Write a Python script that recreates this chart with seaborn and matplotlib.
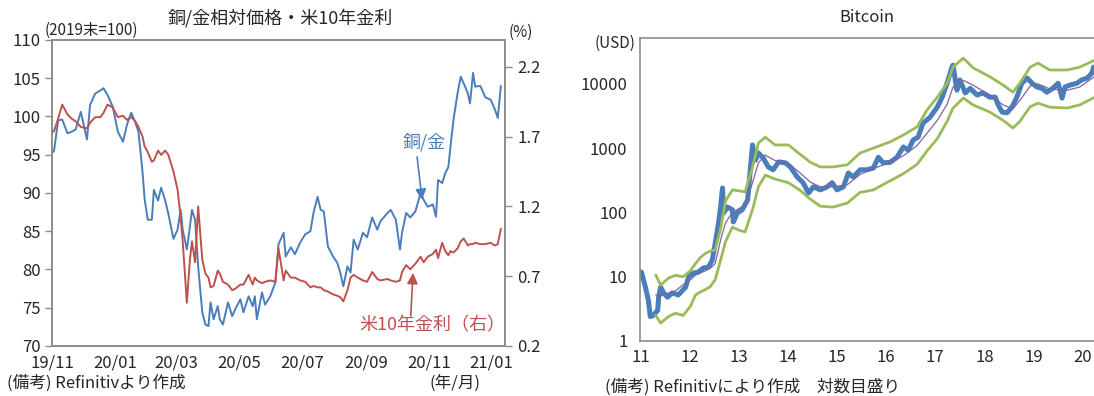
import pandas as pd
import matplotlib.pyplot as plt
import seaborn as sns

# 左パネル: 銅/金相対価格 (2019末=100) と 米10年金利 (%)
dates = [
    "2019-11-01", "2019-11-03", "2019-11-07", "2019-11-11", "2019-11-16", "2019-11-20", "2019-11-24", "2019-11-29",
    "2019-12-05", "2019-12-08", "2019-12-13", "2019-12-18", "2019-12-21", "2019-12-25", "2019-12-30",
    "2020-01-04", "2020-01-09", "2020-01-13", "2020-01-17", "2020-01-21", "2020-01-24", "2020-01-28", "2020-01-30",
    "2020-02-02", "2020-02-06", "2020-02-08", "2020-02-12", "2020-02-15", "2020-02-19", "2020-02-22", "2020-02-27",
    "2020-03-02", "2020-03-05", "2020-03-07", "2020-03-11", "2020-03-14", "2020-03-16", "2020-03-19", "2020-03-22",
    "2020-03-26", "2020-03-29",
    "2020-04-01", "2020-04-03", "2020-04-06", "2020-04-10", "2020-04-12", "2020-04-15", "2020-04-20", "2020-04-24",
    "2020-04-27",
    "2020-05-02", "2020-05-05", "2020-05-10", "2020-05-14", "2020-05-16", "2020-05-18", "2020-05-23", "2020-05-26",
    "2020-05-31",
    "2020-06-05", "2020-06-08", "2020-06-13", "2020-06-15", "2020-06-20", "2020-06-24", "2020-06-29",
    "2020-07-04", "2020-07-09", "2020-07-12", "2020-07-16", "2020-07-19", "2020-07-22", "2020-07-26", "2020-07-31",
    "2020-08-04", "2020-08-07", "2020-08-10", "2020-08-14", "2020-08-17", "2020-08-20", "2020-08-24", "2020-08-29",
    "2020-09-02", "2020-09-07", "2020-09-12", "2020-09-15", "2020-09-22", "2020-09-25", "2020-09-30",
    "2020-10-04", "2020-10-06", "2020-10-10", "2020-10-14", "2020-10-19", "2020-10-24", "2020-10-27", "2020-10-31",
    "2020-11-05", "2020-11-08", "2020-11-10", "2020-11-14", "2020-11-17", "2020-11-20", "2020-11-22", "2020-11-25",
    "2020-11-29",
    "2020-12-02", "2020-12-05", "2020-12-09", "2020-12-11", "2020-12-14", "2020-12-16", "2020-12-21", "2020-12-26",
    "2020-12-31",
    "2021-01-04", "2021-01-07", "2021-01-10",
]
copper_gold = [
    95.2, 95.5, 99.5, 99.6, 97.8, 98.0, 98.3, 100.6, 97.0, 101.5,
    103.0, 103.4, 103.7, 102.8, 101.3, 98.0, 96.7, 99.0, 100.5, 99.2,
    98.0, 92.7, 89.2, 86.5, 86.5, 90.4, 89.0, 90.7, 89.0, 87.3,
    84.0, 85.2, 87.8, 85.2, 82.6, 85.6, 87.8, 86.5, 80.4, 74.4,
    72.8, 72.6, 75.7, 73.5, 75.2, 73.5, 72.8, 75.7, 73.9, 74.8,
    76.1, 74.4, 76.5, 75.2, 76.5, 73.5, 77.0, 75.4, 76.5, 78.3,
    83.3, 84.8, 81.7, 82.9, 82.0, 83.5, 84.6, 85.0, 87.4, 89.5,
    87.8, 87.6, 83.0, 81.7, 80.9, 79.6, 77.8, 80.4, 79.6, 83.9,
    82.6, 84.8, 84.2, 86.8, 85.2, 86.3, 87.4, 87.8, 86.5, 82.6,
    84.8, 87.4, 86.8, 87.6, 90.0, 89.1, 88.2, 88.5, 86.9, 91.7,
    91.3, 92.6, 93.4, 96.0, 99.6, 103.1, 105.2, 104.3, 103.0, 101.7,
    105.7, 103.9, 104.0, 102.5, 102.2, 101.0, 99.8, 104.0,
]
us10y = [
    1.73, 1.74, 1.83, 1.93, 1.86, 1.83, 1.81, 1.77, 1.76, 1.80,
    1.84, 1.84, 1.87, 1.93, 1.91, 1.84, 1.85, 1.82, 1.84, 1.81,
    1.77, 1.70, 1.63, 1.59, 1.52, 1.53, 1.60, 1.57, 1.60, 1.57,
    1.45, 1.32, 1.12, 0.95, 0.51, 0.82, 0.95, 0.80, 1.20, 0.82,
    0.72, 0.69, 0.62, 0.63, 0.74, 0.72, 0.66, 0.64, 0.60, 0.61,
    0.64, 0.64, 0.71, 0.64, 0.69, 0.67, 0.65, 0.66, 0.67, 0.66,
    0.90, 0.67, 0.74, 0.69, 0.69, 0.67, 0.66, 0.62, 0.63, 0.62,
    0.62, 0.60, 0.59, 0.57, 0.56, 0.55, 0.52, 0.60, 0.69, 0.71,
    0.69, 0.67, 0.66, 0.73, 0.68, 0.67, 0.68, 0.67, 0.66, 0.67,
    0.73, 0.78, 0.75, 0.79, 0.84, 0.80, 0.84, 0.86, 0.89, 0.83,
    0.94, 0.88, 0.85, 0.88, 0.87, 0.90, 0.95, 0.97, 0.92, 0.93,
    0.93, 0.94, 0.93, 0.93, 0.94, 0.92, 0.93, 1.04,
]
month_ticks = ["2019-11-01", "2020-01-01", "2020-03-01", "2020-05-01",
               "2020-07-01", "2020-09-01", "2020-11-01", "2021-01-01"]
month_labels = ["19/11", "20/01", "20/03", "20/05", "20/07", "20/09", "20/11", "21/01"]

# 右パネル: Bitcoin (USD, 対数目盛り)
btc_year = [
    2011.63, 2011.71, 2011.77, 2011.81, 2011.87, 2011.96, 2011.98, 2012.02, 2012.08, 2012.16,
    2012.26, 2012.38, 2012.53, 2012.59, 2012.69, 2012.79, 2012.89, 2012.99, 2013.07, 2013.13,
    2013.20, 2013.24, 2013.28, 2013.30, 2013.38, 2013.48, 2013.50, 2013.58, 2013.68, 2013.79,
    2013.85, 2013.89, 2013.95, 2014.01, 2014.11, 2014.21, 2014.31, 2014.42, 2014.56, 2014.66,
    2014.80, 2014.92, 2015.03, 2015.13, 2015.27, 2015.41, 2015.51, 2015.61, 2015.74, 2015.84,
    2015.94, 2016.08, 2016.22, 2016.35, 2016.45, 2016.55, 2016.69, 2016.83, 2016.96, 2017.06,
    2017.16, 2017.26, 2017.36, 2017.50, 2017.65, 2017.75, 2017.85, 2017.95, 2017.97, 2018.05,
    2018.11, 2018.22, 2018.32, 2018.46, 2018.58, 2018.72, 2018.83, 2018.89, 2018.97, 2019.07,
    2019.17, 2019.27, 2019.37, 2019.48, 2019.58, 2019.68, 2019.78, 2019.88, 2020.00, 2020.11,
    2020.19, 2020.25, 2020.35, 2020.49, 2020.59, 2020.70, 2020.80, 2020.83,
]
btc_price = [
    11.8, 6.9, 4.3, 2.4, 2.5, 3.0, 4.8, 6.9, 5.6, 4.8,
    5.6, 5.2, 6.9, 10, 11.4, 11.8, 13.7, 14, 18, 33,
    69, 121, 240, 98, 121, 110, 71, 98, 110, 155,
    510, 1120, 650, 840, 700, 510, 460, 610, 590, 510,
    355, 290, 200, 250, 224, 250, 290, 224, 250, 410,
    355, 460, 460, 490, 720, 590, 600, 720, 1040, 930,
    1340, 1480, 2450, 3000, 4340, 6200, 10200, 18200, 19500, 7950,
    11500, 7200, 8500, 6700, 7200, 6200, 6200, 4700, 3630, 3550,
    4340, 6200, 10200, 12300, 10200, 8900, 8500, 7400, 8500, 10200,
    6000, 8900, 9550, 10200, 11500, 12300, 14700, 18200,
]
band_year = [
    2011.92, 2012.02, 2012.18, 2012.32, 2012.48, 2012.63, 2012.73, 2012.83, 2012.93, 2013.03,
    2013.13, 2013.24, 2013.34, 2013.48, 2013.64, 2013.74, 2013.89, 2014.01, 2014.15, 2014.35,
    2014.62, 2014.86, 2015.07, 2015.27, 2015.53, 2015.82, 2016.08, 2016.35, 2016.69, 2016.96,
    2017.24, 2017.44, 2017.65, 2017.85, 2017.97, 2018.18, 2018.38, 2018.72, 2018.99, 2019.19,
    2019.33, 2019.54, 2019.70, 2019.94, 2020.29, 2020.55, 2020.84,
]
band_upper = [
    10.6, 7.4, 9.5, 10.5, 10.0, 12.5, 16, 20, 23, 25,
    26, 55, 150, 224, 215, 209, 510, 1200, 1480, 1120,
    1120, 800, 600, 510, 510, 550, 840, 1000, 1250, 1600,
    2140, 3900, 6200, 10200, 18200, 25100, 17700, 12900, 9550, 7400,
    10200, 18200, 21000, 16400, 16400, 18200, 23000,
]
band_mid = [
    5.2, 5.0, 5.6, 6.0, 7.5, 9.0, 10.6, 11.5, 12.3, 13.5,
    16, 37, 69, 100, 118, 121, 290, 590, 780, 640,
    580, 410, 295, 250, 250, 270, 390, 480, 600, 760,
    1100, 1700, 2700, 4800, 8900, 11300, 9500, 6700, 4700, 4100,
    5500, 9200, 10000, 8300, 7950, 8900, 12800,
]
band_lower = [
    2.5, 1.9, 2.4, 2.7, 2.5, 3.5, 5.2, 5.8, 6.3, 7.0,
    9, 18, 35, 59, 52, 50, 110, 250, 380, 330,
    290, 220, 160, 125, 121, 140, 205, 224, 310, 400,
    560, 900, 1400, 2600, 4200, 6000, 4700, 3630, 2700, 2050,
    2600, 4400, 5000, 4340, 4200, 4700, 6100,
]
year_labels = ["11", "12", "13", "14", "15", "16", "17", "18", "19", "20"]

BLUE = "#4a7ebb"
RED = "#c0504d"
GREEN = "#9bbb59"
PURPLE = "#8064a2"
GRAY = "#8c8c8c"

sns.set_style("white")
plt.rcParams["font.family"] = ["Noto Sans CJK JP", "DejaVu Sans"]

left_df = pd.DataFrame({"date": pd.to_datetime(dates), "copper_gold": copper_gold, "us10y": us10y})
btc_df = pd.DataFrame({"year": btc_year, "price": btc_price})
band_df = pd.DataFrame({"year": band_year, "upper": band_upper, "mid": band_mid, "lower": band_lower})

fig = plt.figure(figsize=(10.94, 3.96), dpi=100)

# ---- 左 ----
ax = fig.add_axes([0.0475, 0.1263, 0.4141, 0.7727])
sns.lineplot(data=left_df, x="date", y="copper_gold", ax=ax, color=BLUE, linewidth=1.4)
ax2 = ax.twinx()
sns.lineplot(data=left_df, x="date", y="us10y", ax=ax2, color=RED, linewidth=1.4)

ax.set_xlim(pd.Timestamp("2019-11-01"), pd.Timestamp("2021-01-14"))
ax.set_ylim(70, 110)
ax2.set_ylim(0.2, 2.393)
ax.set_yticks(range(70, 111, 5))
ax2.set_yticks([0.2, 0.7, 1.2, 1.7, 2.2])
ax2.set_yticklabels(["0.2", "0.7", "1.2", "1.7", "2.2"])
ax.set_xticks(pd.to_datetime(month_ticks))
ax.set_xticklabels(month_labels)
for a in (ax, ax2):
    a.set_xlabel("")
    a.set_ylabel("")
    for s in a.spines.values():
        s.set_color(GRAY)
        s.set_linewidth(1.2)
ax.tick_params(axis="x", length=0, pad=6, labelsize=12)
ax.tick_params(axis="y", length=5, width=1, color=GRAY, direction="out", labelsize=12, pad=3)
ax2.tick_params(axis="y", length=5, width=1, color=GRAY, direction="out", labelsize=12, pad=4)

ax.annotate("", xy=(0.817, 0.477), xytext=(0.806, 0.618), xycoords="axes fraction",
            arrowprops=dict(arrowstyle="-|>", color=BLUE, lw=1.2, mutation_scale=16, shrinkA=0, shrinkB=0))
ax.text(0.821, 0.667, "銅/金", transform=ax.transAxes, color=BLUE, fontsize=13, ha="center", va="center")
ax.annotate("", xy=(0.797, 0.239), xytext=(0.792, 0.098), xycoords="axes fraction",
            arrowprops=dict(arrowstyle="-|>", color=RED, lw=1.2, mutation_scale=16, shrinkA=0, shrinkB=0))
ax.text(0.839, 0.069, "米10年金利（右）", transform=ax.transAxes, color=RED, fontsize=13, ha="center", va="center")

fig.text(0.256, 0.955, "銅/金相対価格・米10年金利", fontsize=13, ha="center", va="center")
fig.text(0.041, 0.924, "(2019末=100)", fontsize=11, ha="left", va="center")
fig.text(0.465, 0.919, "(%)", fontsize=11, ha="left", va="center")
fig.text(0.006, 0.033, "(備考) Refinitivより作成", fontsize=12, ha="left", va="center")
fig.text(0.393, 0.033, "(年/月)", fontsize=12, ha="left", va="center")

# ---- 右 ----
bx = fig.add_axes([0.585, 0.1389, 0.415, 0.765])
bx.set_yscale("log")
sns.lineplot(data=btc_df, x="year", y="price", ax=bx, color=BLUE, linewidth=3.6)
sns.lineplot(data=band_df, x="year", y="upper", ax=bx, color=GREEN, linewidth=2.0)
sns.lineplot(data=band_df, x="year", y="lower", ax=bx, color=GREEN, linewidth=2.0)
sns.lineplot(data=band_df, x="year", y="mid", ax=bx, color=PURPLE, linewidth=0.9)

bx.set_xlim(2011.60, 2020.84)
bx.set_ylim(1, 51500)
bx.set_yticks([1, 10, 100, 1000, 10000])
bx.set_yticklabels(["1", "10", "100", "1000", "10000"])
bx.minorticks_off()
bx.set_xticks([2011.61 + i for i in range(len(year_labels))])
bx.set_xticklabels(year_labels)
bx.set_xlabel("")
bx.set_ylabel("")
for s in bx.spines.values():
    s.set_color(GRAY)
    s.set_linewidth(1.2)
bx.spines["right"].set_visible(False)
bx.tick_params(axis="x", length=0, pad=6, labelsize=12)
bx.tick_params(axis="y", length=5, width=1, color=GRAY, direction="out", labelsize=12, pad=4)

fig.text(0.792, 0.957, "Bitcoin", fontsize=12, ha="center", va="center")
fig.text(0.581, 0.891, "(USD)", fontsize=11, ha="right", va="center")
fig.text(0.553, 0.022, "(備考) Refinitivにより作成　対数目盛り", fontsize=12, ha="left", va="center")

fig.savefig("out.png", dpi=100)
